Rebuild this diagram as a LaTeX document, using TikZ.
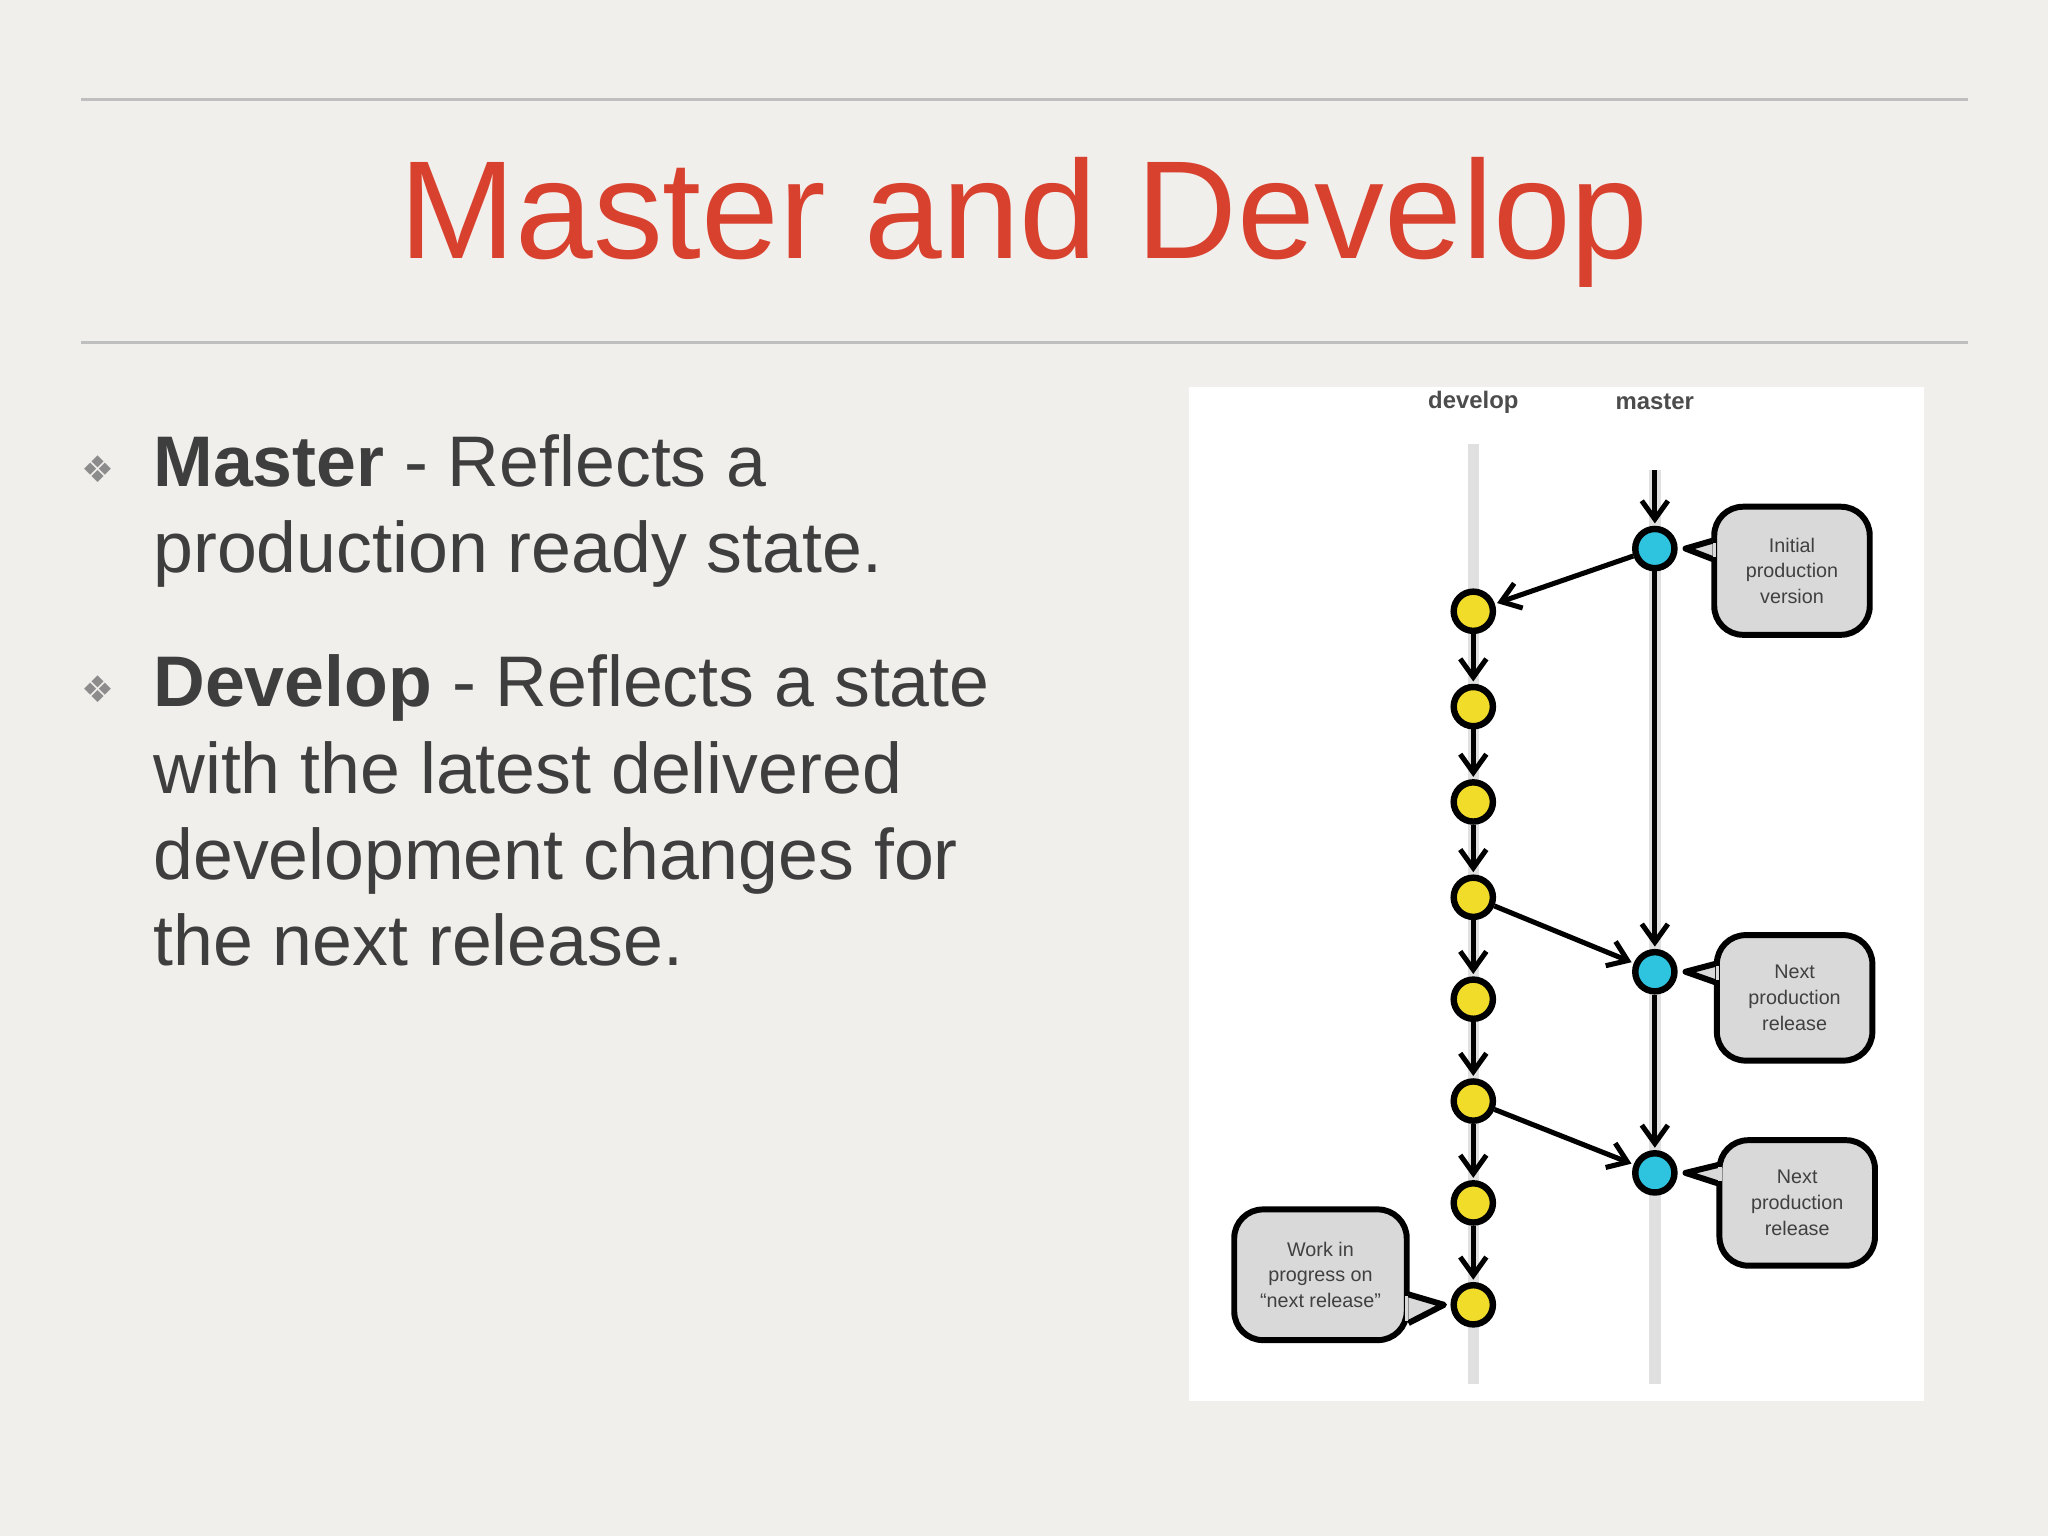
\documentclass[tikz,border=0pt]{standalone}
\usepackage{fontspec}
\setmainfont{Liberation Sans}
\newfontfamily\symfont{DejaVu Sans}
\usetikzlibrary{arrows.meta,calc}
\definecolor{bg}{HTML}{F1EFEC}
\definecolor{titlered}{HTML}{D9412F}
\definecolor{txt}{HTML}{3E3E3E}
\definecolor{yel}{HTML}{F2DC2A}
\definecolor{cya}{HTML}{2EC4E0}
\definecolor{callg}{HTML}{D9D9D9}
\tikzset{
  ycom/.style={circle,draw=black,line width=1.4pt,fill=yel,minimum size=0.3cm,inner sep=0pt},
  ccom/.style={circle,draw=black,line width=1.4pt,fill=cya,minimum size=0.3cm,inner sep=0pt},
  arr/.style={-{Straight Barb[length=1.4mm,width=2mm]},line width=1.1pt,black,shorten >=0.5pt},
  callout/.style={draw=black,line width=1.3pt,fill=callg,rounded corners=2.2mm,align=center,
     font=\fontsize{4.3pt}{5.6pt}\selectfont,text=black!75},
  lane/.style={line width=2.5pt,black!12},
  bullettext/.style={anchor=north west,align=left,text=txt,font=\fontsize{15.6pt}{18.8pt}\selectfont},
  bulletmark/.style={text=black!45,font=\symfont\fontsize{8pt}{8pt}\selectfont}
}
\begin{document}
\begin{tikzpicture}[x=0.01cm,y=-0.01cm]
\useasboundingbox (0,0) rectangle (1568,1176);
\fill[bg] (0,0) rectangle (1568,1176);
\draw[black!25,line width=0.6pt] (62,76) -- (1507,76);
\draw[black!25,line width=0.6pt] (62,262) -- (1507,262);
\node[text=titlered,font=\fontsize{30.4pt}{36pt}\selectfont] (title) at (784,170) {Master and Develop};
% bullets
\node[bulletmark] (b1) at (75,359) {❖};
\node[bulletmark] (b2) at (75,528) {❖};
\node[bullettext] (t1) at (105,320) {\textbf{Master} - Reflects a\\production ready state.};
\node[bullettext] (t2) at (105,489) {\textbf{Develop} - Reflects a state\\with the latest delivered\\development changes for\\the next release.};
% diagram
\fill[white] (910,296) rectangle (1473,1073);
\node[font=\bfseries\fontsize{5.2pt}{6pt}\selectfont,text=black!70] (ld) at (1128,308) {develop};
\node[font=\bfseries\fontsize{5.2pt}{6pt}\selectfont,text=black!70] (lm) at (1267,308) {master};
\draw[lane] (1128,340) -- (1128,1060);
\draw[lane] (1267,360) -- (1267,1060);
\foreach \i/\y in {1/468,2/541,3/614,4/687,5/765,6/843,7/921,8/999}
  \node[ycom] (y\i) at (1128,\y) {};
\foreach \i/\y in {1/420,2/744,3/898}
  \node[ccom] (c\i) at (1267,\y) {};
\coordinate (mtop) at (1267,360);
\draw[arr] (mtop) -- (c1);
\draw[arr] (c1) -- (y1);
\foreach \a/\b in {1/2,2/3,3/4,4/5,5/6,6/7,7/8} \draw[arr] (y\a) -- (y\b);
\draw[arr] (c1) -- (c2);
\draw[arr] (c2) -- (c3);
\draw[arr] (y4) -- (c2);
\draw[arr] (y6) -- (c3);
% callouts
\node[callout,minimum width=1.19cm,minimum height=0.98cm] (k1) at (1372,437) {Initial\\production\\version};
\node[callout,minimum width=1.19cm,minimum height=0.96cm] (k2) at (1374,764) {Next\\production\\release};
\node[callout,minimum width=1.19cm,minimum height=0.96cm] (k3) at (1376,921) {Next\\production\\release};
\node[callout,minimum width=1.32cm,minimum height=1.0cm] (k4) at (1011,976) {Work in\\progress on\\“next release”};
\foreach \k/\c in {k1/c1,k2/c2,k3/c3}{
  \coordinate (p) at (\k.west |- \c);
  \filldraw[draw=black,fill=callg,line width=1.3pt,line join=round]
    ($(p)+(1,-6)$) -- ($(\c.east)+(6,0)$) -- ($(p)+(1,8)$);
  \fill[callg] ($(p)+(1.5,-4.5)$) rectangle ($(p)+(4,6.5)$);
}
\coordinate (q) at (k4.east |- y8);
\filldraw[draw=black,fill=callg,line width=1.3pt,line join=round]
  ($(q)+(-1,-8)$) -- ($(y8.west)+(-5,0)$) -- ($(q)+(-1,14)$);
\fill[callg] ($(q)+(-4,-6.5)$) rectangle ($(q)+(-1.5,12.5)$);
\end{tikzpicture}
\end{document}
